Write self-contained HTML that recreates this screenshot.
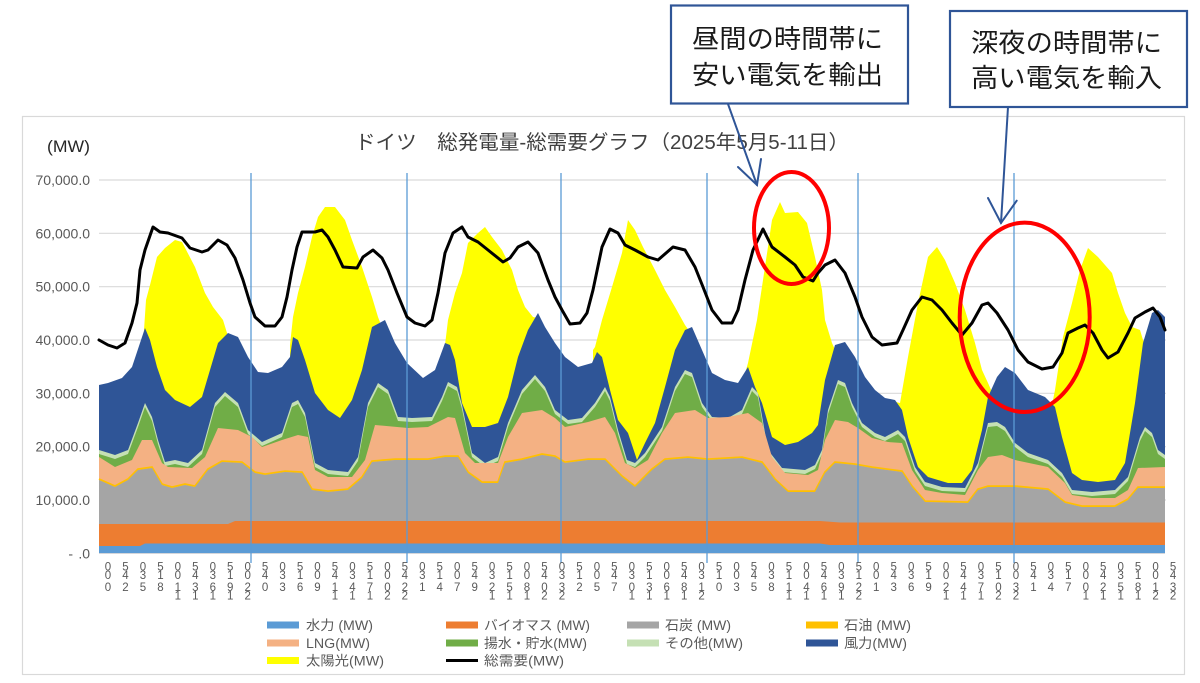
<!DOCTYPE html>
<html><head><meta charset="utf-8"><title>ドイツ 総発電量-総需要グラフ</title>
<style>
html,body{margin:0;padding:0;background:#fff;}
body{width:1200px;height:683px;overflow:hidden;}
svg{display:block;}
</style></head>
<body>
<svg width="1200" height="683" viewBox="0 0 1200 683" xmlns="http://www.w3.org/2000/svg" font-family="'Liberation Sans','Noto Sans CJK JP',sans-serif">
<rect x="0" y="0" width="1200" height="683" fill="#fff"/>
<!-- chart border -->
<rect x="22.5" y="116.5" width="1162" height="558" fill="#fff" stroke="#D9D9D9" stroke-width="1.2"/>

<!-- title -->
<text x="355" y="149" font-size="20" fill="#404040" textLength="494" lengthAdjust="spacingAndGlyphs">ドイツ　総発電量-総需要グラフ（2025年5月5-11日）</text>
<text x="47" y="152" font-size="17" fill="#262626" textLength="43" lengthAdjust="spacingAndGlyphs">(MW)</text>

<!-- gridlines -->
<g stroke="#D9D9D9" stroke-width="1.2">
<line x1="99" y1="180" x2="1166" y2="180"/>
<line x1="99" y1="233.3" x2="1166" y2="233.3"/>
<line x1="99" y1="286.7" x2="1166" y2="286.7"/>
<line x1="99" y1="340" x2="1166" y2="340"/>
<line x1="99" y1="393.3" x2="1166" y2="393.3"/>
<line x1="99" y1="446.7" x2="1166" y2="446.7"/>
<line x1="99" y1="500" x2="1166" y2="500"/>
</g>

<!-- y labels -->
<g font-size="14" fill="#595959" text-anchor="end">
<text x="90" y="185">70,000.0</text>
<text x="90" y="238.3">60,000.0</text>
<text x="90" y="291.7">50,000.0</text>
<text x="90" y="345">40,000.0</text>
<text x="90" y="398.3">30,000.0</text>
<text x="90" y="451.7">20,000.0</text>
<text x="90" y="505">10,000.0</text>
<text x="90" y="558.5">.0</text>
<text x="73" y="558.5">-</text>
</g>

<!-- solar humps -->
<g fill="#FFFF00">
<polygon points="143,345 146,300 150,285 157,257 165,248 175,240 182,242 195,267 205,293 213,307 223,320 227,333 230,345 230,545 143,545"/>
<polygon points="290,345 293,317 298,293 305,267 312,237 318,217 325,207 335,207 345,220 352,240 362,267 372,297 378,317 383,330 383,545 290,545"/>
<polygon points="445,345 448,320 455,293 462,273 468,243 478,233 485,227 492,237 502,250 512,270 518,290 525,307 533,317 538,318 542,330 542,545 445,545"/>
<polygon points="593,350 595,347 602,320 612,287 622,253 628,220 635,230 643,247 655,270 665,290 675,307 685,325 690,332 690,545 593,545"/>
<polygon points="746,370 748,363 757,320 763,280 772,220 780,202 785,213 798,212 807,223 815,257 822,290 825,320 832,343 836,352 836,545 746,545"/>
<polygon points="896,402 900,403 908,357 918,303 928,257 937,247 945,260 955,283 965,310 975,343 982,370 988,383 992,392 992,545 896,545"/>
<polygon points="1052,405 1055,390 1063,337 1072,303 1080,270 1088,248 1098,257 1112,273 1118,293 1125,313 1132,327 1140,330 1143,340 1146,345 1146,545 1052,545"/>
</g>

<!-- wind -->
<polygon fill="#2F5597" points="99,385 108,383 122,378 132,367 140,343 145,328 150,340 157,367 165,390 175,400 190,407 202,397 210,370 218,343 228,333 238,337 248,357 258,372 268,373 282,367 290,357 293,337 298,340 305,360 315,393 328,410 340,418 352,400 362,370 372,327 385,320 395,343 407,363 423,378 435,370 445,343 450,345 455,360 462,403 472,427 485,427 498,423 508,397 518,357 528,330 538,313 545,327 555,343 565,357 578,367 592,363 597,352 602,357 610,390 618,420 628,433 637,460 645,443 655,423 665,387 675,350 685,330 692,327 702,350 712,373 725,380 738,383 748,367 755,387 762,403 772,437 785,445 798,442 812,433 818,425 825,380 835,345 845,342 855,357 865,377 875,390 885,398 895,400 902,410 908,437 918,467 928,477 948,483 962,483 972,470 982,430 988,397 997,377 1005,367 1015,373 1028,390 1045,397 1055,407 1062,437 1072,473 1082,480 1098,482 1115,480 1125,463 1135,403 1143,343 1152,313 1158,310 1165,317 1165,545 99,545"/>

<!-- other (light green) and pumped (green) -->
<polygon fill="#C5E0B4" points="99,450 115,455 128,450 138,423 145,403 152,417 158,440 165,462 175,460 188,463 202,450 215,403 225,392 238,403 248,430 262,442 282,433 292,403 298,400 305,413 315,463 328,470 348,472 358,457 368,403 378,383 388,390 398,417 412,418 432,417 442,397 448,382 457,387 462,405 472,453 485,463 498,457 508,423 522,390 535,375 545,387 555,410 568,420 582,418 595,403 605,387 610,397 618,430 627,460 635,463 645,453 662,427 675,387 685,370 692,373 702,403 712,417 728,418 742,410 752,387 758,393 768,450 782,468 805,470 815,465 822,450 828,410 838,380 845,383 852,403 862,423 875,433 885,437 898,430 905,437 915,467 925,482 942,487 965,488 978,463 988,423 997,422 1005,427 1015,443 1028,453 1048,460 1062,473 1072,490 1092,492 1115,490 1128,477 1140,437 1145,427 1152,433 1158,450 1165,455 1165,540 99,540"/>
<polygon fill="#70AD47" transform="translate(0,4)" points="99,450 115,455 128,450 138,423 145,403 152,417 158,440 165,462 175,460 188,463 202,450 215,403 225,392 238,403 248,430 262,442 282,433 292,403 298,400 305,413 315,463 328,470 348,472 358,457 368,403 378,383 388,390 398,417 412,418 432,417 442,397 448,382 457,387 462,405 472,453 485,463 498,457 508,423 522,390 535,375 545,387 555,410 568,420 582,418 595,403 605,387 610,397 618,430 627,460 635,463 645,453 662,427 675,387 685,370 692,373 702,403 712,417 728,418 742,410 752,387 758,393 768,450 782,468 805,470 815,465 822,450 828,410 838,380 845,383 852,403 862,423 875,433 885,437 898,430 905,437 915,467 925,482 942,487 965,488 978,463 988,423 997,422 1005,427 1015,443 1028,453 1048,460 1062,473 1072,490 1092,492 1115,490 1128,477 1140,437 1145,427 1152,433 1158,450 1165,455 1165,540 99,540"/>

<!-- LNG -->
<polygon fill="#F4B183" points="99,457 115,467 132,460 142,440 152,440 162,463 168,467 192,468 205,457 218,428 238,430 252,437 262,447 282,440 298,435 308,437 315,470 328,477 352,477 365,460 375,425 408,428 428,427 448,417 455,418 465,453 475,463 498,463 508,437 522,413 542,410 555,418 565,427 588,422 605,417 615,433 625,463 635,468 648,460 662,433 675,413 695,410 708,418 728,417 748,413 762,423 772,457 785,473 808,475 818,470 825,440 835,420 848,422 858,428 872,438 888,442 902,443 912,470 925,490 942,493 965,495 978,470 988,457 1002,455 1015,460 1048,467 1065,483 1072,495 1092,498 1115,498 1128,490 1138,468 1165,467 1165,545 99,545"/>

<!-- oil line + coal -->
<polyline fill="none" stroke="#FFC000" stroke-width="1.8" transform="translate(0,-0.9)" points="99,480 115,487 128,480 138,470 152,468 162,485 172,488 185,485 195,487 208,470 222,462 242,463 255,473 265,475 285,472 302,473 312,490 328,492 348,490 362,478 372,462 395,460 428,460 445,457 458,457 468,473 482,483 498,483 505,463 522,460 542,455 555,457 565,463 588,460 605,460 622,477 635,487 652,470 665,460 688,458 708,460 742,458 762,463 775,480 788,492 815,492 825,473 835,463 855,465 872,468 902,472 912,487 925,502 968,503 978,490 988,487 1015,487 1048,490 1065,503 1082,507 1115,507 1128,500 1138,488 1165,488"/>
<polygon fill="#A5A5A5" points="99,480 115,487 128,480 138,470 152,468 162,485 172,488 185,485 195,487 208,470 222,462 242,463 255,473 265,475 285,472 302,473 312,490 328,492 348,490 362,478 372,462 395,460 428,460 445,457 458,457 468,473 482,483 498,483 505,463 522,460 542,455 555,457 565,463 588,460 605,460 622,477 635,487 652,470 665,460 688,458 708,460 742,458 762,463 775,480 788,492 815,492 825,473 835,463 855,465 872,468 902,472 912,487 925,502 968,503 978,490 988,487 1015,487 1048,490 1065,503 1082,507 1115,507 1128,500 1138,488 1165,488 1165,545 99,545"/>

<!-- biomass -->
<polygon fill="#ED7D31" points="99,524 228,524 235,521 820,521 840,522.5 1165,522.5 1165,553.3 99,553.3"/>
<!-- hydro -->
<polygon fill="#5B9BD5" points="99,546 140,546 145,543.5 820,543.5 830,545 1165,545 1165,553.3 99,553.3"/>

<!-- vertical day lines -->
<g stroke="#5B9BD5" stroke-width="1.3">
<line x1="251" y1="173" x2="251" y2="563"/>
<line x1="407" y1="173" x2="407" y2="563"/>
<line x1="561" y1="173" x2="561" y2="563"/>
<line x1="707" y1="173" x2="707" y2="563"/>
<line x1="858" y1="173" x2="858" y2="563"/>
<line x1="1014" y1="173" x2="1014" y2="563"/>
</g>

<!-- demand -->
<polyline fill="none" stroke="#000" stroke-width="3" stroke-linejoin="round" stroke-linecap="round" points="99,340 108,345 117,348 125,343 132,323 137,303 140,270 145,250 153,227 160,232 168,233 182,238 190,248 202,252 208,250 218,240 227,245 235,258 243,280 250,303 255,317 265,326 275,326 282,317 287,297 292,270 297,247 302,232 315,232 322,230 328,237 335,250 343,267 357,268 363,257 373,250 382,258 388,270 397,293 407,317 415,323 425,326 432,320 438,293 445,253 453,233 462,227 468,237 478,242 488,250 503,262 510,258 518,247 528,242 538,253 548,280 555,297 562,310 570,324 580,323 587,313 593,290 602,247 610,229 618,233 625,245 635,250 648,257 658,260 673,247 685,250 695,267 703,287 712,310 722,323 732,323 738,310 745,280 753,250 763,229 772,247 785,257 795,265 803,277 813,281 818,273 825,265 835,260 845,273 855,297 862,317 872,337 882,345 897,343 903,330 912,310 922,297 932,300 942,310 952,323 962,335 972,323 982,305 988,303 997,313 1008,330 1018,350 1028,362 1042,369 1053,367 1062,353 1068,333 1078,328 1085,325 1093,333 1102,350 1108,358 1118,352 1128,333 1135,318 1145,312 1153,308 1160,317 1165,330"/>

<!-- x labels -->
<g font-size="11.5" fill="#595959" text-anchor="middle">
<text y="570.7" x="108.0 125.5 142.9 160.4 177.8 195.3 212.8 230.2 247.7 265.1 282.6 300.1 317.5 335.0 352.4 369.9 387.4 404.8 422.3 439.7 457.2 474.7 492.1 509.6 527.0 544.5 562.0 579.4 596.9 614.3 631.8 649.3 666.7 684.2 701.6 719.1 736.6 754.0 771.5 788.9 806.4 823.9 841.3 858.8 876.2 893.7 911.2 928.6 946.1 963.5 981.0 998.5 1015.9 1033.4 1050.8 1068.3 1085.8 1103.2 1120.7 1138.1 1155.6 1173.1">05050505050505050505050505050505050505050505050505050505050505</text>
<text y="579" x="108.0 125.5 142.9 160.4 177.8 195.3 212.8 230.2 247.7 265.1 282.6 300.1 317.5 335.0 352.4 369.9 387.4 404.8 422.3 439.7 457.2 474.7 492.1 509.6 527.0 544.5 562.0 579.4 596.9 614.3 631.8 649.3 666.7 684.2 701.6 719.1 736.6 754.0 771.5 788.9 806.4 823.9 841.3 858.8 876.2 893.7 911.2 928.6 946.1 963.5 981.0 998.5 1015.9 1033.4 1050.8 1068.3 1085.8 1103.2 1120.7 1138.1 1155.6 1173.1">04310431043104310431043104310431043104310431043104310431043104</text>
<text y="591" x="108.0 125.5 142.9 160.4 177.8 195.3 212.8 230.2 247.7 265.1 282.6 300.1 317.5 335.0 352.4 369.9 387.4 404.8 422.3 439.7 457.2 474.7 492.1 509.6 527.0 544.5 562.0 579.4 596.9 614.3 631.8 649.3 666.7 684.2 701.6 719.1 736.6 754.0 771.5 788.9 806.4 823.9 841.3 858.8 876.2 893.7 911.2 928.6 946.1 963.5 981.0 998.5 1015.9 1033.4 1050.8 1068.3 1085.8 1103.2 1120.7 1138.1 1155.6 1173.1">02581369203691470214792580325703681035814692136924703147025813</text>
<text y="599.3" x="177.8 195.3 212.8 230.2 247.7 335.0 352.4 369.9 387.4 404.8 492.1 509.6 527.0 544.5 562.0 631.8 649.3 666.7 684.2 701.6 788.9 806.4 823.9 841.3 858.8 946.1 963.5 981.0 998.5 1015.9 1085.8 1103.2 1120.7 1138.1 1155.6 1173.1">111121112211122111121111211122111122</text>
</g>

<!-- legend -->
<g>
<rect x="267" y="621.5" width="32" height="7" fill="#5B9BD5"/>
<rect x="446" y="621.5" width="32" height="7" fill="#ED7D31"/>
<rect x="627" y="621.5" width="32" height="7" fill="#A5A5A5"/>
<rect x="806" y="621.5" width="32" height="7" fill="#FFC000"/>
<rect x="267" y="639.5" width="32" height="7" fill="#F4B183"/>
<rect x="446" y="639.5" width="32" height="7" fill="#70AD47"/>
<rect x="627" y="639.5" width="32" height="7" fill="#C5E0B4"/>
<rect x="806" y="639.5" width="32" height="7" fill="#2F5597"/>
<rect x="267" y="657" width="32" height="7" fill="#FFFF00"/>
<line x1="446" y1="660.5" x2="478" y2="660.5" stroke="#000" stroke-width="3"/>
</g>
<g font-size="13.5" fill="#595959">
<text x="306" y="630" textLength="67" lengthAdjust="spacingAndGlyphs">水力 (MW)</text>
<text x="484" y="630" textLength="106" lengthAdjust="spacingAndGlyphs">バイオマス (MW)</text>
<text x="665" y="630" textLength="66" lengthAdjust="spacingAndGlyphs">石炭 (MW)</text>
<text x="844" y="630" textLength="67" lengthAdjust="spacingAndGlyphs">石油 (MW)</text>
<text x="306" y="648" textLength="64" lengthAdjust="spacingAndGlyphs">LNG(MW)</text>
<text x="484" y="648" textLength="103" lengthAdjust="spacingAndGlyphs">揚水・貯水(MW)</text>
<text x="665" y="648" textLength="78" lengthAdjust="spacingAndGlyphs">その他(MW)</text>
<text x="844" y="648" textLength="63" lengthAdjust="spacingAndGlyphs">風力(MW)</text>
<text x="306" y="665.5" textLength="78" lengthAdjust="spacingAndGlyphs">太陽光(MW)</text>
<text x="484" y="665.5" textLength="80" lengthAdjust="spacingAndGlyphs">総需要(MW)</text>
</g>

<!-- red ellipses -->
<ellipse cx="791.5" cy="228" rx="37.5" ry="56" fill="none" stroke="#FF0000" stroke-width="4"/>
<ellipse cx="1024.7" cy="317.3" rx="65" ry="94.7" fill="none" stroke="#FF0000" stroke-width="4"/>

<!-- arrows -->
<g stroke="#2F5597" stroke-width="2" fill="none" stroke-linecap="round">
<line x1="728" y1="104" x2="757" y2="185"/>
<polyline points="738,167 757,185 761,159"/>
<line x1="1008" y1="107" x2="1001" y2="223"/>
<polyline points="988,198 1001,223 1016.7,200.7"/>
</g>

<!-- callout boxes -->
<rect x="671" y="5.5" width="237" height="98" fill="#fff" stroke="#2F5597" stroke-width="2.2"/>
<rect x="950" y="11" width="237" height="96" fill="#fff" stroke="#2F5597" stroke-width="2.2"/>
<g font-family="'Liberation Sans','Noto Sans CJK JP',sans-serif" font-size="26" fill="#1a1a1a">
<text x="692" y="48" textLength="191" lengthAdjust="spacingAndGlyphs">昼間の時間帯に</text>
<text x="692" y="84" textLength="191" lengthAdjust="spacingAndGlyphs">安い電気を輸出</text>
<text x="971" y="52" textLength="191" lengthAdjust="spacingAndGlyphs">深夜の時間帯に</text>
<text x="971" y="87" textLength="191" lengthAdjust="spacingAndGlyphs">高い電気を輸入</text>
</g>
</svg>
</body></html>
